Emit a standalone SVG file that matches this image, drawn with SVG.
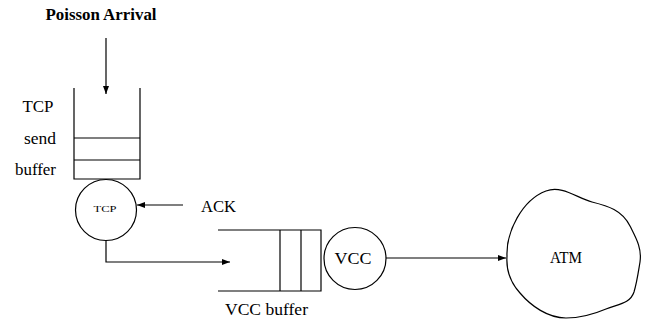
<svg xmlns="http://www.w3.org/2000/svg" width="648" height="321" viewBox="0 0 648 321">
<defs>
<style>
.ln{fill:none;stroke:#000;stroke-width:1.2}
.sh{fill:#fff;stroke:#000;stroke-width:1.2}
.t{fill:#000}
</style>
<marker id="ah" viewBox="0 0 8 6" refX="8" refY="3" markerWidth="8" markerHeight="6" markerUnits="userSpaceOnUse" orient="auto">
<path d="M0,0 L8,3 L0,6 Z" fill="#000"/>
</marker>
</defs>
<rect width="648" height="321" fill="#fff"/>
<g font-family="Liberation Serif, serif">
<text class="t" x="101" y="20" font-size="16" font-weight="bold" text-anchor="middle" textLength="111" lengthAdjust="spacingAndGlyphs">Poisson Arrival</text>
<g id="tcp-buffer">
<path class="ln" d="M74,88 V179 H140 V88"/>
<line class="ln" x1="74" y1="138" x2="140" y2="138"/>
<line class="ln" x1="74" y1="160" x2="140" y2="160" stroke-width="2"/>
<text class="t" x="38" y="112" font-size="16" text-anchor="middle" textLength="31" lengthAdjust="spacingAndGlyphs">TCP</text>
<text class="t" x="40" y="144" font-size="16" text-anchor="middle" textLength="32" lengthAdjust="spacingAndGlyphs">send</text>
<text class="t" x="35.5" y="175" font-size="16" text-anchor="middle" textLength="41" lengthAdjust="spacingAndGlyphs">buffer</text>
</g>
<g id="tcp">
<circle class="sh" cx="106" cy="210" r="30.5"/>
<text class="t" x="105" y="212" font-size="9" text-anchor="middle" textLength="23" lengthAdjust="spacingAndGlyphs">TCP</text>
</g>
<text class="t" x="218.5" y="212" font-size="16" text-anchor="middle" textLength="35" lengthAdjust="spacingAndGlyphs">ACK</text>
<g id="vcc-buffer">
<path class="ln" d="M218,230 H321 V291 H218"/>
<line class="ln" x1="280" y1="230" x2="280" y2="291"/>
<line class="ln" x1="301" y1="230" x2="301" y2="291"/>
<text class="t" x="266.5" y="315" font-size="16" text-anchor="middle" textLength="83" lengthAdjust="spacingAndGlyphs">VCC buffer</text>
</g>
<g id="vcc">
<circle class="sh" cx="355" cy="258.5" r="31"/>
<text class="t" x="353" y="264" font-size="16" text-anchor="middle" textLength="37" lengthAdjust="spacingAndGlyphs">VCC</text>
</g>
<g id="atm">
<path class="sh" d="M507,256 C506,232 522,200 546,191 C562,185 577,198 592,202 C608,206 622,210 630,226 C636,238 642,248 640,262 C638,274 637,282 634,292 C630,304 618,304 606,309 C592,315 580,318 566,318 C548,318 531,306 520,293 C510,282 506,270 507,256 Z"/>
<text class="t" x="566" y="263" font-size="16" text-anchor="middle" textLength="32" lengthAdjust="spacingAndGlyphs">ATM</text>
</g>
</g>
<g id="connectors">
<line class="ln" x1="106" y1="38" x2="106" y2="94" marker-end="url(#ah)"/>
<line class="ln" x1="183" y1="205" x2="137" y2="205" marker-end="url(#ah)"/>
<path class="ln" d="M106,240.5 V262 H230" marker-end="url(#ah)"/>
<line class="ln" x1="386" y1="258" x2="506" y2="258" marker-end="url(#ah)"/>
</g>
</svg>
